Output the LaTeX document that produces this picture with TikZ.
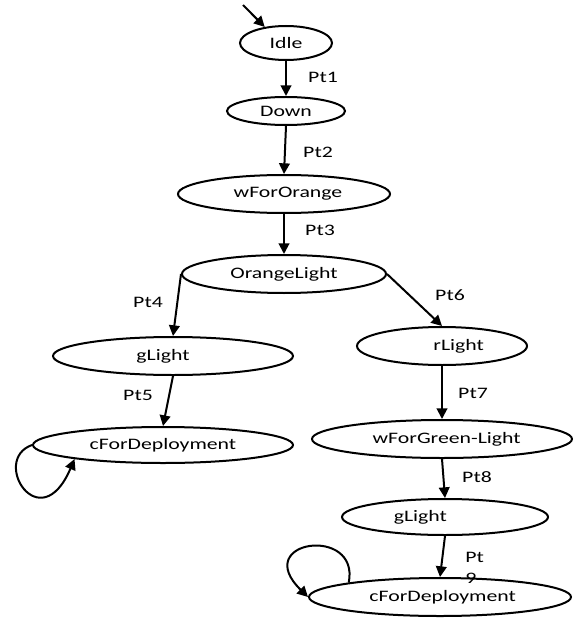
\documentclass[tikz,border=0pt]{standalone}
\usepackage{fontspec}
\setmainfont[FakeStretch=1.36]{Carlito}
\usetikzlibrary{shapes.geometric,arrows.meta}
\begin{document}
\begin{tikzpicture}[x=0.75pt,y=-0.75pt,
  font=\fontsize{12}{15.5}\selectfont,
  st/.style 2 args={draw,ellipse,line width=1.5pt,inner sep=0pt,
    minimum width={2*#1*0.75pt},minimum height={2*#2*0.75pt}},
  tr/.style={line width=1.5pt,-{Triangle[length=8pt,width=8pt]}},
  lab/.style={inner sep=0pt}]
\useasboundingbox (0,0) rectangle (573,620);
% states
\node[st={46}{17}] (idle) at (286,43) {Idle};
\node[st={59}{14}] (down) at (286,111) {Down};
\node[st={106}{19}] (wfo) at (284,194) {\hspace*{6pt}wForOrange};
\node[st={102}{19}] (ol) at (284,274) {OrangeLight};
\node[st={120}{19}] (gl) at (173,356) {gLight\hspace*{15pt}};
\node[st={130}{18}] (cl) at (163,445) {cForDeployment};
\node[st={85}{19}] (rl) at (442,346) {\hspace*{25pt}rLight};
\node[st={130}{19}] (wg) at (442,439) {\hspace*{7pt}wForGreen-Light};
\node[st={103}{18}] (gr) at (445,517) {gLight\hspace*{37pt}};
\node[st={131}{19}] (cr) at (440,597) {\hspace*{4pt}cForDeployment};
% initial
\coordinate (init) at (243,5);
\draw[tr] (init) -- (idle.143);
% transitions
\draw[tr] (idle.south) -- (down.north);
\draw[tr] (down.south) -- (wfo.north);
\draw[tr] (wfo.south) -- (ol.north);
\draw[tr] (ol.west) -- (gl.north);
\draw[tr] (gl.south) -- (cl.north);
\draw[tr] (ol.east) -- (rl.north);
\draw[tr] (rl.south) -- (wg.north);
\draw[tr] (wg.south) -- (gr.north);
\draw[tr] (gr.south) -- (cr.north);
% self loops
\draw[tr] (cl.west) .. controls (-10,460) and (40,540) .. (cl.189);
\draw[tr] (cr.171) .. controls (360,525) and (250,540) .. (cr.west);
% labels
\node[lab] (p1) at (323,77) {Pt1};
\node[lab] (p2) at (318,152) {Pt2};
\node[lab] (p3) at (320,230) {Pt3};
\node[lab] (p4) at (148,302) {Pt4};
\node[lab] (p5) at (138,395) {Pt5};
\node[lab] (p6) at (450,295) {Pt6};
\node[lab] (p7) at (473,393) {Pt7};
\node[lab] (p8) at (477,477) {Pt8};
\node[lab,anchor=west,align=left] (p9) at (465,568) {Pt\\9};
\end{tikzpicture}
\end{document}
